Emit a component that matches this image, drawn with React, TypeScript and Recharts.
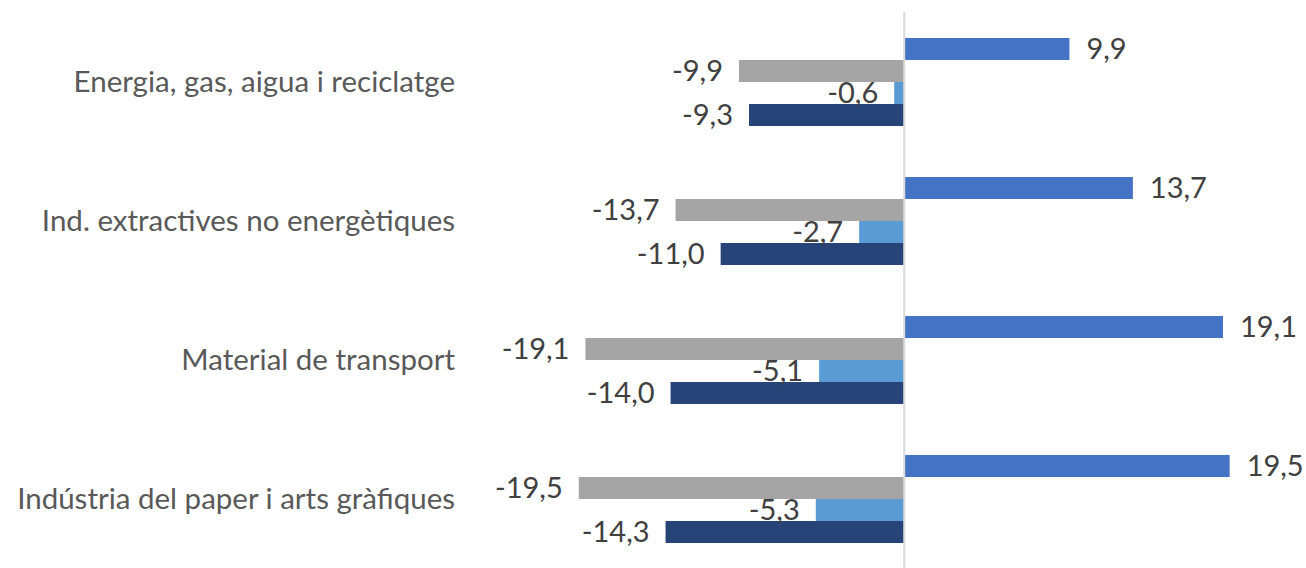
import React from "react";
import { BarChart, Bar, XAxis, YAxis, ReferenceLine, LabelList } from "recharts";

const categories = [
  "Energia, gas, aigua i reciclatge",
  "Ind. extractives no energètiques",
  "Material de transport",
  "Indústria del paper i arts gràfiques",
];
const serieA = [9.9, 13.7, 19.1, 19.5];
const serieB = [-9.9, -13.7, -19.1, -19.5];
const serieC = [-0.6, -2.7, -5.1, -5.3];
const serieD = [-9.3, -11.0, -14.0, -14.3];

const data = categories.map((name, i) => ({
  name,
  a: serieA[i],
  b: serieB[i],
  c: serieC[i],
  d: serieD[i],
}));

const fmt = (v: any) => Number(v).toFixed(1).replace(".", ",");
const FONT = "Lato, 'Noto Sans', sans-serif";
const labelStyle = { fill: "#404040", fontSize: 29, fontFamily: FONT };

export default function App() {
  return (
    <div style={{ position: "absolute", left: 0, top: 0, width: 1306, height: 568, background: "#fff" }}>
      <BarChart
        width={1306}
        height={568}
        data={data}
        layout="vertical"
        margin={{ top: 12, right: 68, left: 0, bottom: 0 }}
        barSize={22}
        barGap={0}
      >
        <XAxis type="number" domain={[-25, 20]} hide />
        <YAxis
          type="category"
          dataKey="name"
          width={487}
          axisLine={false}
          tickLine={false}
          tickSize={0}
          tickMargin={32}
          tick={{ fill: "#595959", fontSize: 29.5, fontFamily: FONT }}
        />
        <Bar dataKey="a" fill="#4472C4" isAnimationActive={false}>
          <LabelList dataKey="a" position="right" offset={17} formatter={fmt as any} style={labelStyle} />
        </Bar>
        <Bar dataKey="b" fill="#A5A5A5" isAnimationActive={false}>
          <LabelList dataKey="b" position="right" offset={16} formatter={fmt as any} style={labelStyle} />
        </Bar>
        <Bar dataKey="c" fill="#5B9BD5" isAnimationActive={false}>
          <LabelList dataKey="c" position="right" offset={16} formatter={fmt as any} style={labelStyle} />
        </Bar>
        <Bar dataKey="d" fill="#264478" isAnimationActive={false}>
          <LabelList dataKey="d" position="right" offset={16} formatter={fmt as any} style={labelStyle} />
        </Bar>
        <ReferenceLine x={0} stroke="#D9D9D9" strokeWidth={2} />
      </BarChart>
    </div>
  );
}
